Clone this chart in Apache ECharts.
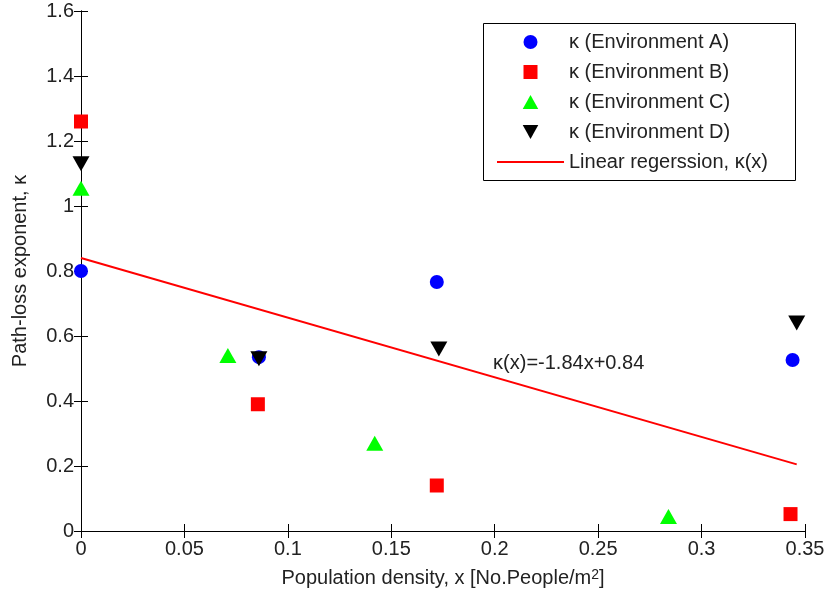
<!DOCTYPE html>
<html>
<head>
<meta charset="utf-8">
<script src="https://cdn.jsdelivr.net/npm/echarts@6/dist/echarts.min.js"></script>
<style>
html,body{margin:0;padding:0;background:#fff;}
#chart{width:829px;height:600px;}
</style>
</head>
<body>
<div id="chart"></div>
<script>
// ---- data ----
const envA_x = [0, 0.086, 0.172, 0.344];
const envA_y = [0.80, 0.535, 0.766, 0.526];
const envB_x = [0, 0.0855, 0.172, 0.343];
const envB_y = [1.26, 0.39, 0.14, 0.052];
const envC_x = [0, 0.071, 0.142, 0.284];
const envC_y = [1.055, 0.54, 0.27, 0.045];
const envD_x = [0, 0.086, 0.173, 0.346];
const envD_y = [1.13, 0.53, 0.56, 0.64];
const regr_x = [0, 0.346];
const regr_y = [0.84, 0.205];
const seriesNames = ['\u03BA (Environment A)', '\u03BA (Environment B)', '\u03BA (Environment C)', '\u03BA (Environment D)', 'Linear regerssion, \u03BA(x)'];
const annotationText = '\u03BA(x)=-1.84x+0.84';
const annotationPos = [0.1992, 0.514];
const xTicks = {min: 0, max: 0.35, interval: 0.05};
const yTicks = {min: 0, max: 1.6, interval: 0.2};

const pair = (xs, ys) => xs.map((x, i) => [x, ys[i]]);
const FONT = "'Liberation Sans', Arial, sans-serif";
const TXT = '#222';

const chart = echarts.init(document.getElementById('chart'), null, {renderer: 'canvas'});

const axisCommon = {
  type: 'value',
  axisLine: {show: true, lineStyle: {color: '#000', width: 1}},
  axisTick: {show: true, inside: true, length: 7, lineStyle: {color: '#000'}},
  splitLine: {show: false}
};

const squareSym = 'path://M0,0 L10,0 L10,10 L0,10 Z';
const upTri = 'path://M5,0 L10,9 L0,9 Z';
const downTri = 'path://M0,0 L10,0 L5,9 Z';
const lineIcon = 'path://M0,0 L67,0 L67,2 L0,2 Z';

chart.setOption({
  animation: false,
  backgroundColor: '#fff',
  textStyle: {fontFamily: FONT},
  grid: {left: 81, right: 24, top: 11, bottom: 69, containLabel: false},
  xAxis: [
    Object.assign({}, axisCommon, {
      min: xTicks.min, max: xTicks.max, interval: xTicks.interval,
      position: 'bottom',
      axisLabel: {color: TXT, fontSize: 20, fontFamily: FONT, margin: 8},
      name: '{a|Population density, x [No.People/m}{s|2}{a|]}',
      nameLocation: 'middle', nameGap: 37,
      nameTextStyle: {
        color: TXT, fontSize: 20, fontFamily: FONT,
        rich: {
          a: {fontSize: 20, fontFamily: FONT, color: TXT, verticalAlign: 'bottom'},
          s: {fontSize: 14, fontFamily: FONT, color: TXT, verticalAlign: 'top'}
        }
      }
    }),
    Object.assign({}, axisCommon, {
      min: xTicks.min, max: xTicks.max, interval: xTicks.interval,
      position: 'top',
      axisLabel: {show: false}
    })
  ],
  yAxis: [
    Object.assign({}, axisCommon, {
      min: yTicks.min, max: yTicks.max, interval: yTicks.interval,
      position: 'left',
      axisLabel: {color: TXT, fontSize: 20, fontFamily: FONT, margin: 7},
      name: 'Path-loss exponent, \u03BA',
      nameLocation: 'middle', nameGap: 51,
      nameTextStyle: {color: TXT, fontSize: 20, fontFamily: FONT}
    }),
    Object.assign({}, axisCommon, {
      min: yTicks.min, max: yTicks.max, interval: yTicks.interval,
      position: 'right',
      axisLabel: {show: false}
    })
  ],
  legend: {
    orient: 'vertical',
    left: 497, top: 32,
    padding: 0,
    itemWidth: 67, itemHeight: 14, itemGap: 10,
    symbolKeepAspect: true,
    z: 6,
    textStyle: {color: TXT, fontSize: 20, fontFamily: FONT, lineHeight: 20},
    data: [
      {name: seriesNames[0], icon: 'circle'},
      {name: seriesNames[1], icon: squareSym},
      {name: seriesNames[2], icon: upTri},
      {name: seriesNames[3], icon: downTri},
      {name: seriesNames[4], icon: lineIcon}
    ]
  },
  graphic: [{
    type: 'rect', z: 5, silent: true,
    shape: {x: 483.5, y: 23.5, width: 312, height: 157},
    style: {fill: '#fff', stroke: '#000', lineWidth: 1}
  }],
  series: [
    {name: seriesNames[0], type: 'scatter', data: pair(envA_x, envA_y), symbol: 'circle', symbolSize: 14,
     itemStyle: {color: '#0000ff', opacity: 1}, z: 2},
    {name: seriesNames[1], type: 'scatter', data: pair(envB_x, envB_y), symbol: squareSym, symbolSize: 14,
     itemStyle: {color: '#ff0000', opacity: 1}, z: 2},
    {name: seriesNames[2], type: 'scatter', data: pair(envC_x, envC_y), symbol: upTri, symbolSize: [17, 15],
     itemStyle: {color: '#00ff00', opacity: 1}, z: 2},
    {name: seriesNames[3], type: 'scatter', data: pair(envD_x, envD_y), symbol: downTri, symbolSize: [17, 15],
     itemStyle: {color: '#000000', opacity: 1}, z: 2},
    {name: seriesNames[4], type: 'line', data: pair(regr_x, regr_y), symbol: 'none', showSymbol: false,
     lineStyle: {color: '#ff0000', width: 2}, itemStyle: {color: '#ff0000'}, z: 3,
     markPoint: {
       symbol: 'circle', symbolSize: 0,
       label: {show: true, position: 'right', distance: 0, formatter: annotationText,
               color: TXT, fontSize: 20, fontFamily: FONT},
       data: [{coord: annotationPos}]
     }}
  ]
});
</script>
</body>
</html>
